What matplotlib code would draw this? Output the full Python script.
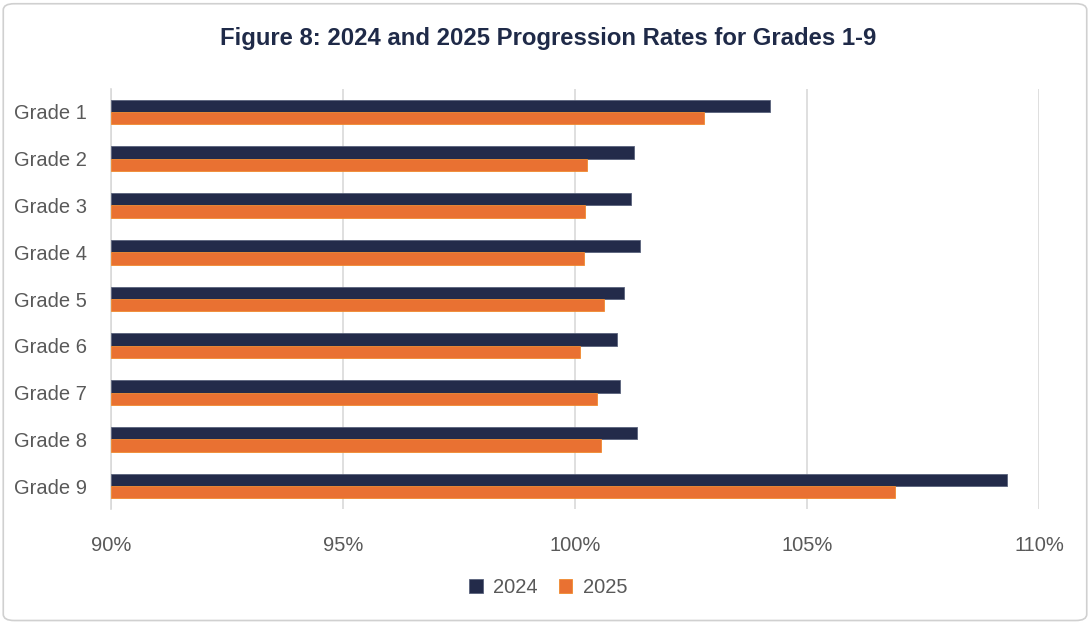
import numpy as np
import matplotlib.pyplot as plt
from matplotlib.patches import FancyBboxPatch

grades = ['Grade 1', 'Grade 2', 'Grade 3', 'Grade 4', 'Grade 5',
          'Grade 6', 'Grade 7', 'Grade 8', 'Grade 9']
rate_2024 = [104.20, 101.27, 101.20, 101.40, 101.06, 100.90, 100.97, 101.33, 109.30]
rate_2025 = [102.79, 100.25, 100.21, 100.20, 100.62, 100.10, 100.47, 100.57, 106.90]
x_ticks = [90, 95, 100, 105, 110]

navy = '#232B4A'
orange = '#E97132'
grey_text = '#595959'

plt.rcParams['font.family'] = ['Liberation Sans', 'DejaVu Sans']

fig = plt.figure(figsize=(10.9, 6.23), dpi=100)
ax = fig.add_axes([0.1018, 0.1823, 0.8514, 0.6755])

y = np.arange(len(grades))
h = 0.265
ax.barh(y - h / 2, np.array(rate_2024) - 90, height=h, left=90, color=navy,
        edgecolor='#5A627C', linewidth=0.6, label='2024', zorder=3)
ax.barh(y + h / 2, np.array(rate_2025) - 90, height=h, left=90, color=orange,
        edgecolor='#F08A2E', linewidth=0.6, label='2025', zorder=3)

ax.set_xlim(90, 110)
ax.set_ylim(len(grades) - 0.5, -0.5)
ax.set_xticks(x_ticks)
ax.set_xticklabels([f'{t}%' for t in x_ticks], fontsize=14.5, color=grey_text)
ax.set_yticks(y)
ax.set_yticklabels(grades, fontsize=14.5, color=grey_text)
ax.tick_params(axis='both', length=0)
ax.tick_params(axis='x', pad=19)
ax.tick_params(axis='y', pad=17)
ax.grid(axis='x', color='#D9D9D9', linewidth=1.2, zorder=0)
for s in ['top', 'right', 'bottom']:
    ax.spines[s].set_visible(False)
ax.spines['left'].set_color('#D9D9D9')
ax.spines['left'].set_linewidth(1.2)

fig.text(0.503, 0.938, 'Figure 8: 2024 and 2025 Progression Rates for Grades 1-9',
         ha='center', va='center', fontsize=17.2, fontweight='bold', color='#1F2A48')

fig.legend(loc='center', bbox_to_anchor=(0.503, 0.057), ncol=2, frameon=False,
           fontsize=14.5, handlelength=0.65, handleheight=0.65, columnspacing=1.1,
           handletextpad=0.5, labelcolor=grey_text)

border = FancyBboxPatch((0.003, 0.004), 0.994, 0.99, boxstyle='round,pad=0,rounding_size=0.01',
                        transform=fig.transFigure, fill=False, edgecolor='#D0D0D0', linewidth=1.2)
fig.patches.append(border)

fig.savefig('out.png', dpi=100)
